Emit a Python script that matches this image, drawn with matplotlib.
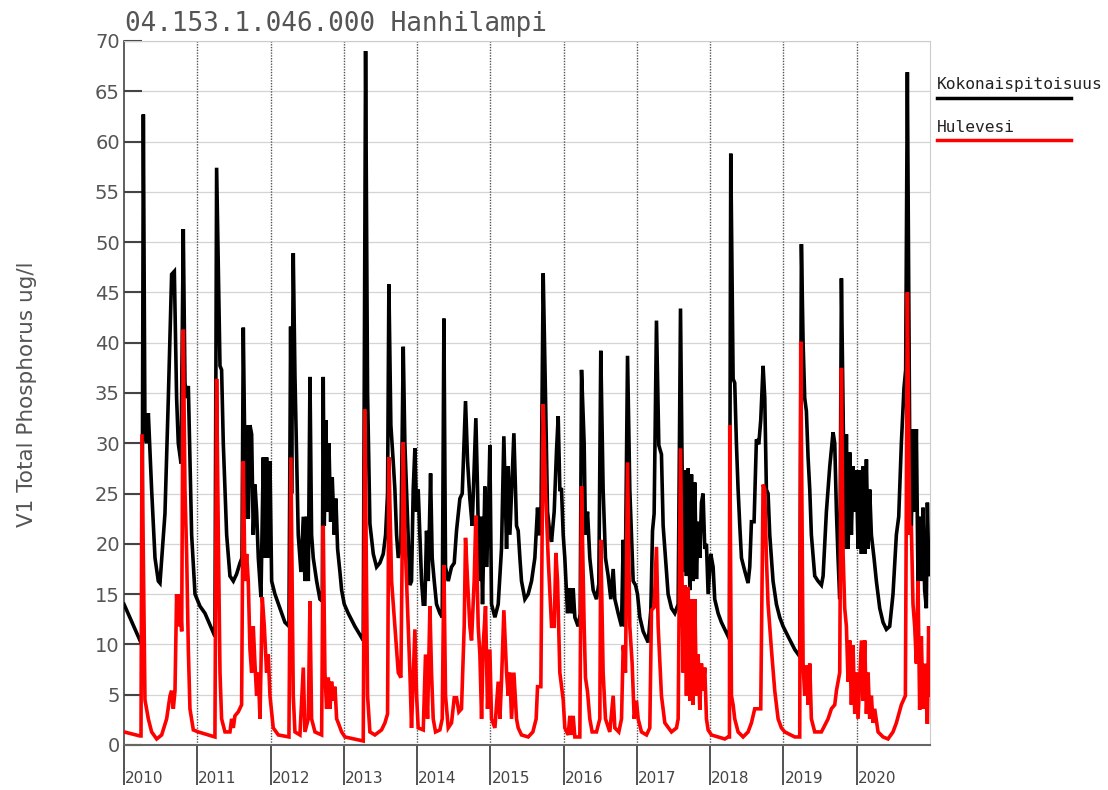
import numpy as np
import matplotlib
matplotlib.use("Agg")
import matplotlib.pyplot as plt
import matplotlib.transforms as mtransforms
from matplotlib.lines import Line2D

title = "04.153.1.046.000 Hanhilampi"
ylabel = "V1 Total Phosphorus ug/l"
legend_labels = ["Kokonaispitoisuus", "Hulevesi"]
years = list(range(2010, 2021))

# Kokonaispitoisuus (black), decimal year / ug/l
black_t = [2010.000, 2010.218, 2010.245, 2010.264, 2010.286, 2010.309, 2010.332, 2010.377, 2010.423, 2010.468,
           2010.491, 2010.559, 2010.605, 2010.650, 2010.687, 2010.718, 2010.741, 2010.778, 2010.809, 2010.832,
           2010.855, 2010.878, 2010.923, 2010.969, 2011.037, 2011.105, 2011.241, 2011.264, 2011.310, 2011.332,
           2011.355, 2011.401, 2011.446, 2011.492, 2011.537, 2011.583, 2011.610, 2011.628, 2011.660, 2011.678,
           2011.696, 2011.719, 2011.742, 2011.764, 2011.787, 2011.810, 2011.833, 2011.869, 2011.901, 2011.924,
           2011.946, 2011.969, 2011.992, 2012.015, 2012.060, 2012.128, 2012.196, 2012.251, 2012.274, 2012.287,
           2012.310, 2012.333, 2012.356, 2012.378, 2012.415, 2012.447, 2012.469, 2012.492, 2012.515, 2012.538,
           2012.560, 2012.583, 2012.629, 2012.674, 2012.706, 2012.719, 2012.733, 2012.756, 2012.774, 2012.797,
           2012.820, 2012.842, 2012.870, 2012.892, 2012.915, 2012.947, 2012.970, 2013.006, 2013.060, 2013.151,
           2013.265, 2013.297, 2013.324, 2013.356, 2013.402, 2013.447, 2013.492, 2013.538, 2013.570, 2013.597,
           2013.615, 2013.642, 2013.674, 2013.697, 2013.720, 2013.743, 2013.779, 2013.811, 2013.833, 2013.856,
           2013.879, 2013.902, 2013.924, 2013.947, 2013.970, 2013.993, 2014.015, 2014.038, 2014.061, 2014.084,
           2014.106, 2014.129, 2014.152, 2014.184, 2014.206, 2014.234, 2014.265, 2014.311, 2014.343, 2014.366,
           2014.388, 2014.425, 2014.470, 2014.507, 2014.538, 2014.584, 2014.616, 2014.661, 2014.689, 2014.720,
           2014.752, 2014.802, 2014.825, 2014.848, 2014.870, 2014.893, 2014.925, 2014.948, 2014.971, 2014.993,
           2015.016, 2015.062, 2015.107, 2015.152, 2015.184, 2015.221, 2015.243, 2015.266, 2015.321, 2015.357,
           2015.380, 2015.403, 2015.425, 2015.471, 2015.516, 2015.562, 2015.607, 2015.644, 2015.662, 2015.689,
           2015.721, 2015.753, 2015.780, 2015.812, 2015.835, 2015.871, 2015.903, 2015.926, 2015.948, 2015.971,
           2015.994, 2016.016, 2016.053, 2016.085, 2016.107, 2016.130, 2016.153, 2016.198, 2016.226, 2016.244,
           2016.280, 2016.298, 2016.326, 2016.357, 2016.403, 2016.448, 2016.480, 2016.507, 2016.539, 2016.571,
           2016.608, 2016.644, 2016.676, 2016.699, 2016.744, 2016.790, 2016.813, 2016.835, 2016.872, 2016.903,
           2016.926, 2016.949, 2016.981, 2017.008, 2017.040, 2017.085, 2017.154, 2017.190, 2017.213, 2017.235,
           2017.267, 2017.299, 2017.335, 2017.358, 2017.390, 2017.426, 2017.472, 2017.517, 2017.563, 2017.595,
           2017.631, 2017.654, 2017.676, 2017.699, 2017.722, 2017.745, 2017.767, 2017.790, 2017.813, 2017.835,
           2017.858, 2017.881, 2017.903, 2017.926, 2017.949, 2017.972, 2018.008, 2018.040, 2018.062, 2018.108,
           2018.153, 2018.199, 2018.245, 2018.263, 2018.281, 2018.313, 2018.335, 2018.358, 2018.381, 2018.404,
           2018.427, 2018.472, 2018.517, 2018.540, 2018.563, 2018.599, 2018.631, 2018.663, 2018.690, 2018.722,
           2018.745, 2018.767, 2018.790, 2018.813, 2018.858, 2018.904, 2018.949, 2018.995, 2019.063, 2019.154,
           2019.222, 2019.245, 2019.268, 2019.290, 2019.313, 2019.336, 2019.359, 2019.381, 2019.427, 2019.472,
           2019.518, 2019.541, 2019.586, 2019.632, 2019.677, 2019.700, 2019.723, 2019.745, 2019.768, 2019.791,
           2019.818, 2019.836, 2019.859, 2019.882, 2019.904, 2019.927, 2019.950, 2019.973, 2019.995, 2020.018,
           2020.041, 2020.064, 2020.086, 2020.109, 2020.132, 2020.155, 2020.177, 2020.200, 2020.236, 2020.268,
           2020.314, 2020.359, 2020.405, 2020.450, 2020.495, 2020.541, 2020.573, 2020.609, 2020.645, 2020.668,
           2020.691, 2020.723, 2020.745, 2020.773, 2020.791, 2020.814, 2020.836, 2020.859, 2020.882, 2020.905,
           2020.927, 2020.950, 2020.964, 2020.986, 2020.995]
black_v = [14.0, 10.4, 10.6, 62.7, 31.0, 30.0, 33.0, 25.4, 18.6, 16.3,
           16.1, 23.0, 34.5, 46.8, 47.1, 34.5, 30.0, 28.0, 51.3, 36.0,
           34.5, 35.7, 20.9, 15.0, 13.8, 13.1, 10.8, 57.4, 37.7, 37.3,
           30.0, 20.9, 16.8, 16.3, 17.0, 18.1, 18.6, 41.5, 22.5, 31.8,
           22.5, 31.8, 30.9, 20.9, 25.9, 23.2, 18.6, 14.7, 28.6, 18.6,
           28.6, 18.6, 28.2, 16.3, 15.0, 13.6, 12.2, 11.8, 41.6, 25.0,
           48.9, 36.8, 28.6, 20.9, 17.2, 22.7, 16.3, 22.7, 16.3, 36.6,
           20.9, 18.6, 16.3, 14.5, 14.3, 36.6, 21.8, 32.3, 23.2, 30.0,
           22.2, 26.6, 20.9, 24.5, 19.5, 17.2, 15.4, 14.0, 13.1, 11.8,
           10.4, 69.0, 35.0, 22.0, 19.0, 17.7, 18.1, 19.0, 20.9, 25.0,
           45.8, 31.8, 28.2, 25.4, 20.9, 18.6, 20.0, 39.6, 30.0, 25.4,
           20.9, 15.9, 16.3, 25.4, 29.5, 23.2, 25.4, 20.9, 16.3, 14.0,
           14.0, 21.3, 16.3, 27.0, 18.6, 16.3, 14.0, 13.1, 12.7, 42.4,
           17.7, 16.3, 17.7, 18.1, 21.3, 24.5, 25.0, 34.2, 28.2, 24.5,
           21.8, 32.5, 25.4, 16.3, 22.7, 14.0, 25.7, 17.7, 22.2, 29.8,
           14.0, 12.7, 14.0, 19.5, 30.7, 19.5, 27.7, 20.9, 31.0, 21.8,
           21.3, 18.6, 16.3, 14.5, 15.0, 16.3, 18.6, 23.6, 21.0, 21.0,
           46.9, 34.5, 23.2, 21.0, 20.2, 23.2, 29.3, 32.7, 25.4, 25.4,
           20.9, 18.6, 13.1, 15.6, 13.1, 15.6, 12.7, 11.8, 13.0, 37.3,
           30.0, 20.9, 23.2, 18.6, 15.4, 14.5, 16.0, 39.2, 25.4, 18.6,
           16.8, 14.5, 17.5, 14.5, 13.1, 11.8, 20.4, 11.8, 38.7, 25.4,
           20.9, 16.3, 15.9, 15.0, 12.7, 11.3, 10.2, 13.4, 21.3, 23.0,
           42.2, 29.8, 28.9, 21.8, 18.6, 15.0, 13.6, 13.1, 14.0, 43.4,
           17.2, 27.3, 16.8, 27.5, 15.4, 26.9, 16.3, 26.1, 16.5, 22.2,
           18.6, 24.1, 25.0, 19.5, 20.0, 15.0, 19.0, 17.7, 14.5, 13.1,
           12.2, 11.5, 10.8, 11.5, 58.8, 36.4, 36.0, 30.0, 25.4, 21.8,
           18.6, 17.3, 16.1, 17.7, 22.2, 22.2, 30.4, 29.9, 32.3, 37.7,
           34.5, 25.4, 25.0, 20.9, 16.3, 14.0, 12.7, 11.8, 10.8, 9.5,
           8.8, 49.8, 40.0, 34.5, 33.2, 28.6, 25.4, 20.9, 16.8, 16.3,
           15.9, 16.8, 23.2, 27.7, 31.1, 30.0, 23.2, 18.6, 14.5, 46.4,
           30.9, 19.5, 30.9, 19.5, 29.1, 20.9, 27.7, 23.2, 27.3, 19.5,
           27.3, 19.0, 27.7, 19.0, 28.4, 19.5, 25.4, 20.9, 18.6, 16.3,
           13.6, 12.2, 11.5, 11.8, 15.0, 20.9, 22.7, 30.0, 35.5, 37.3,
           66.9, 30.0, 21.8, 31.4, 23.2, 31.4, 16.3, 22.7, 16.3, 23.6,
           15.4, 13.6, 24.1, 16.8, 17.0]

# Hulevesi (red)
red_t = [2010.000, 2010.218, 2010.232, 2010.245, 2010.286, 2010.332, 2010.377, 2010.446, 2010.514, 2010.582,
         2010.628, 2010.650, 2010.673, 2010.696, 2010.718, 2010.741, 2010.764, 2010.787, 2010.809, 2010.832,
         2010.855, 2010.878, 2010.900, 2010.946, 2011.014, 2011.241, 2011.264, 2011.287, 2011.310, 2011.332,
         2011.378, 2011.446, 2011.469, 2011.492, 2011.514, 2011.560, 2011.605, 2011.628, 2011.651, 2011.674,
         2011.696, 2011.719, 2011.742, 2011.764, 2011.787, 2011.810, 2011.833, 2011.856, 2011.887, 2011.915,
         2011.946, 2011.969, 2011.992, 2012.037, 2012.106, 2012.251, 2012.278, 2012.310, 2012.333, 2012.401,
         2012.447, 2012.469, 2012.515, 2012.538, 2012.560, 2012.606, 2012.697, 2012.719, 2012.742, 2012.765,
         2012.788, 2012.811, 2012.833, 2012.856, 2012.879, 2012.902, 2012.924, 2012.970, 2013.015, 2013.265,
         2013.288, 2013.324, 2013.356, 2013.424, 2013.515, 2013.561, 2013.597, 2013.615, 2013.652, 2013.697,
         2013.743, 2013.779, 2013.811, 2013.833, 2013.879, 2013.902, 2013.924, 2013.970, 2013.993, 2014.015,
         2014.084, 2014.115, 2014.143, 2014.175, 2014.197, 2014.220, 2014.252, 2014.311, 2014.343, 2014.366,
         2014.388, 2014.425, 2014.470, 2014.507, 2014.538, 2014.570, 2014.606, 2014.643, 2014.661, 2014.689,
         2014.720, 2014.743, 2014.779, 2014.802, 2014.834, 2014.857, 2014.880, 2014.902, 2014.934, 2014.961,
         2014.993, 2015.016, 2015.062, 2015.107, 2015.130, 2015.152, 2015.184, 2015.221, 2015.243, 2015.266,
         2015.289, 2015.321, 2015.357, 2015.380, 2015.425, 2015.516, 2015.580, 2015.625, 2015.644, 2015.689,
         2015.721, 2015.753, 2015.789, 2015.835, 2015.871, 2015.894, 2015.917, 2015.948, 2015.994, 2016.016,
         2016.062, 2016.085, 2016.107, 2016.130, 2016.153, 2016.221, 2016.244, 2016.280, 2016.298, 2016.326,
         2016.357, 2016.389, 2016.448, 2016.494, 2016.507, 2016.539, 2016.571, 2016.630, 2016.676, 2016.699,
         2016.753, 2016.790, 2016.813, 2016.844, 2016.872, 2016.903, 2016.935, 2016.963, 2016.994, 2017.017,
         2017.062, 2017.131, 2017.176, 2017.199, 2017.235, 2017.267, 2017.290, 2017.335, 2017.381, 2017.472,
         2017.540, 2017.563, 2017.595, 2017.631, 2017.654, 2017.676, 2017.699, 2017.722, 2017.745, 2017.767,
         2017.790, 2017.813, 2017.835, 2017.858, 2017.881, 2017.903, 2017.926, 2017.949, 2017.972, 2018.017,
         2018.108, 2018.199, 2018.245, 2018.263, 2018.267, 2018.290, 2018.313, 2018.335, 2018.381, 2018.449,
         2018.517, 2018.563, 2018.608, 2018.690, 2018.722, 2018.745, 2018.767, 2018.790, 2018.836, 2018.881,
         2018.927, 2018.972, 2019.018, 2019.154, 2019.222, 2019.236, 2019.268, 2019.290, 2019.313, 2019.336,
         2019.359, 2019.381, 2019.427, 2019.518, 2019.609, 2019.654, 2019.700, 2019.723, 2019.768, 2019.791,
         2019.814, 2019.836, 2019.859, 2019.882, 2019.904, 2019.927, 2019.950, 2019.973, 2019.995, 2020.018,
         2020.064, 2020.086, 2020.109, 2020.132, 2020.155, 2020.177, 2020.200, 2020.223, 2020.245, 2020.291,
         2020.359, 2020.427, 2020.495, 2020.541, 2020.609, 2020.664, 2020.691, 2020.723, 2020.745, 2020.768,
         2020.791, 2020.814, 2020.836, 2020.859, 2020.882, 2020.905, 2020.927, 2020.964, 2020.982, 2020.995]
red_v = [1.3, 0.9, 0.9, 30.9, 4.5, 2.6, 1.3, 0.6, 1.0, 2.6,
         4.9, 5.4, 3.6, 5.4, 15.0, 11.8, 15.0, 11.3, 41.3, 25.4,
         19.0, 9.5, 3.6, 1.5, 1.3, 0.8, 36.4, 20.9, 7.2, 2.6,
         1.3, 1.3, 2.6, 1.7, 2.9, 3.3, 4.0, 28.2, 16.3, 19.0,
         16.3, 9.5, 7.2, 11.8, 8.1, 4.9, 7.2, 2.6, 14.7, 11.8,
         7.2, 9.0, 4.9, 1.7, 1.0, 0.8, 28.6, 4.9, 1.3, 1.0,
         7.7, 1.3, 2.6, 14.3, 2.6, 1.3, 1.0, 21.8, 7.2, 3.6,
         6.7, 3.6, 6.3, 4.4, 5.8, 2.6, 2.2, 1.3, 0.8, 0.4,
         33.4, 4.9, 1.3, 1.0, 1.5, 2.2, 3.1, 28.6, 16.3, 11.8,
         7.2, 6.7, 30.1, 20.9, 11.8, 7.2, 1.7, 11.5, 4.9, 1.7,
         1.5, 9.0, 2.6, 13.8, 7.2, 2.6, 1.3, 1.5, 2.6, 17.9,
         4.9, 1.7, 2.2, 4.7, 4.7, 3.3, 3.6, 11.8, 20.6, 16.3,
         11.8, 10.4, 16.3, 22.8, 11.8, 9.0, 2.6, 9.9, 13.8, 3.6,
         9.5, 2.6, 1.7, 6.3, 2.6, 6.3, 13.4, 7.2, 4.9, 7.2,
         2.6, 7.2, 2.6, 1.7, 1.0, 0.8, 1.3, 2.6, 5.8, 5.8,
         33.9, 25.4, 18.6, 11.8, 11.8, 19.1, 16.3, 7.2, 4.5, 1.7,
         1.0, 2.9, 1.0, 2.9, 0.8, 0.8, 25.7, 11.8, 6.7, 5.3,
         2.6, 1.3, 1.3, 2.6, 20.4, 7.2, 2.6, 1.3, 4.9, 1.7,
         1.3, 2.6, 9.9, 7.2, 28.1, 11.8, 8.1, 2.6, 4.4, 2.6,
         1.3, 1.0, 1.7, 13.4, 13.7, 19.7, 11.8, 4.9, 2.2, 1.3,
         1.7, 2.6, 29.5, 7.2, 15.9, 4.9, 15.7, 4.4, 14.5, 4.0,
         14.5, 4.9, 9.0, 3.5, 8.1, 5.4, 7.7, 2.6, 1.5, 1.0,
         0.8, 0.6, 0.8, 0.8, 31.8, 4.9, 4.0, 2.6, 1.3, 0.8,
         1.3, 2.2, 3.6, 3.6, 25.9, 25.4, 18.6, 14.0, 9.5, 5.4,
         2.6, 1.7, 1.3, 0.8, 0.8, 40.1, 8.1, 4.9, 7.9, 4.0,
         8.1, 2.6, 1.3, 1.3, 2.6, 3.6, 4.0, 5.4, 7.2, 37.5,
         19.0, 13.6, 11.8, 6.3, 10.4, 4.0, 9.9, 3.1, 7.2, 2.6,
         10.4, 4.4, 10.4, 3.1, 7.2, 2.6, 4.9, 2.2, 3.6, 1.3,
         0.8, 0.6, 1.3, 2.2, 4.0, 4.9, 45.0, 20.9, 21.8, 14.0,
         11.8, 8.1, 16.3, 3.5, 10.8, 3.6, 8.1, 2.1, 11.8, 5.0]

W, H = 1108, 790
fig = plt.figure(figsize=(W / 100, H / 100), dpi=100)
ax = fig.add_axes([124 / W, 1 - 745 / H, (930 - 124) / W, (745 - 41) / H])

ax.plot(black_t, black_v, color="black", lw=2.6, solid_joinstyle="miter", zorder=3)
ax.plot(red_t, red_v, color="#ff0000", lw=2.6, solid_joinstyle="miter", zorder=4)

ax.set_xlim(2010, 2021)
ax.set_ylim(0, 70)
ax.set_yticks(range(0, 71, 5))
ax.set_xticks(years)

# grid: light horizontal lines, dotted year separators
for v in range(5, 71, 5):
    ax.axhline(v, color="#d4d4d4", lw=0.9, zorder=1)
for y in years[1:]:
    ax.axvline(y, color="#555555", lw=1.0, ls=(0, (1, 1)), zorder=2)

ax.tick_params(axis="y", direction="in", length=13, width=1.5, color="#444444",
               labelsize=14, labelcolor="#555555", pad=3)
ax.tick_params(axis="x", direction="out", length=29, width=1.3, color="#444444",
               labelbottom=False)

for side in ["top", "right"]:
    ax.spines[side].set_color("#cccccc")
    ax.spines[side].set_linewidth(0.8)
ax.spines["left"].set_color("#444444")
ax.spines["left"].set_linewidth(1.2)
ax.spines["bottom"].set_color("#666666")
ax.spines["bottom"].set_linewidth(1.5)

trans = mtransforms.blended_transform_factory(ax.transData, ax.transAxes)
for y in years:
    ax.text(y + 0.015, -0.047, str(y), transform=trans, ha="left", va="center",
            fontsize=11, color="#444444")

fig.text(125 / W, 1 - 24 / H, title, family="DejaVu Sans Mono", fontsize=18.7,
         color="#555555", va="center", ha="left")
fig.text(27 / W, 1 - 394 / H, ylabel, rotation=90, fontsize=15.5, color="#555555",
         va="center", ha="center")

# legend at the right
for i, (lab, col) in enumerate(zip(legend_labels, ["black", "#ff0000"])):
    ty = 85 + i * 42
    fig.text(937 / W, 1 - ty / H, lab, family="DejaVu Sans Mono", fontsize=11.7,
             color="#222222", va="center", ha="left")
    fig.add_artist(Line2D([937 / W, 1071 / W], [1 - (ty + 13) / H] * 2,
                          color=col, lw=2.5))

fig.savefig("out.png", dpi=100)
